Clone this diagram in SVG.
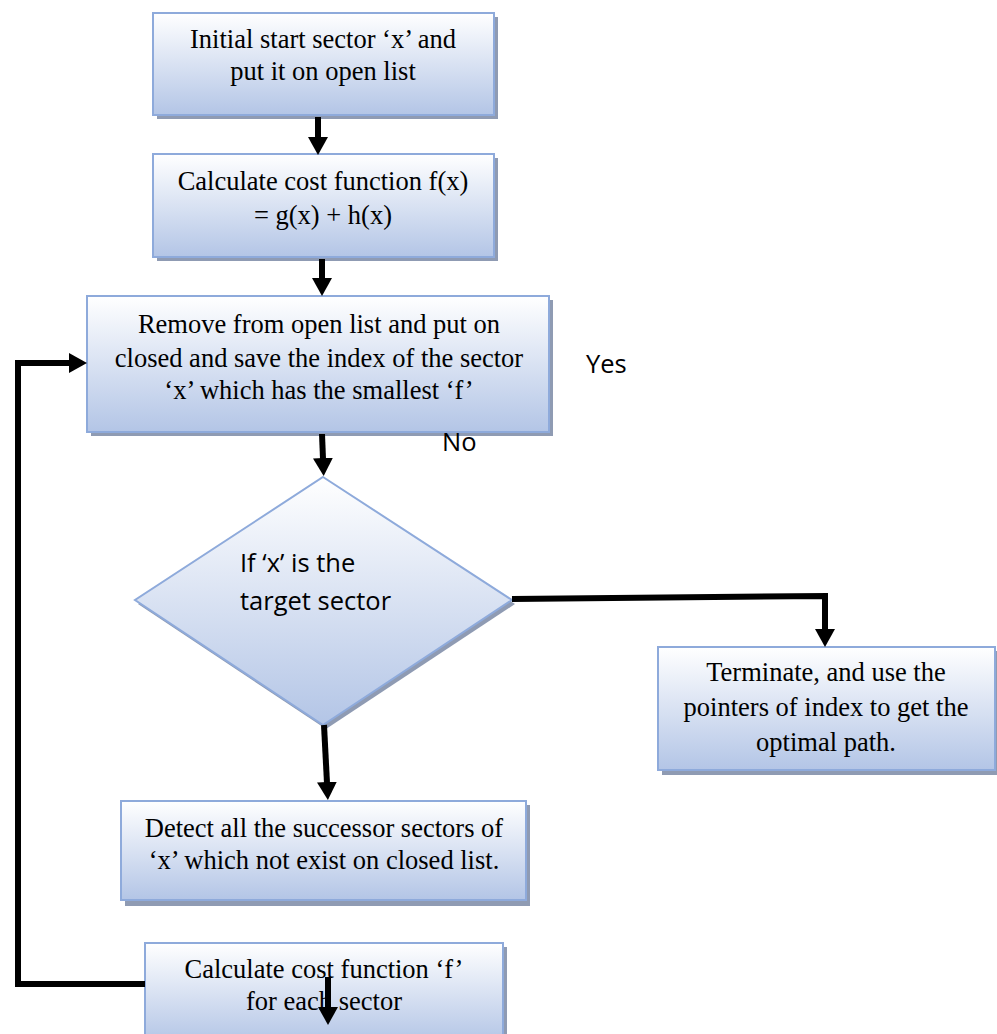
<svg xmlns="http://www.w3.org/2000/svg" width="997" height="1034" viewBox="0 0 997 1034">
<defs>
<linearGradient id="g" x1="0" y1="0" x2="0" y2="1">
<stop offset="0" stop-color="#ffffff"/>
<stop offset="1" stop-color="#b3c5e6"/>
</linearGradient>
<marker id="ah" markerUnits="userSpaceOnUse" markerWidth="19" markerHeight="20" refX="1" refY="10" orient="auto">
<path d="M0,0 L18,10 L0,20 z" fill="#000"/>
</marker>
<style>
.sh{fill:#8f9bb3}
.bx{fill:url(#g);stroke:#8eaadb;stroke-width:2}
.t{font-family:"Liberation Serif","Times New Roman",serif;font-size:26.5px;fill:#000;text-anchor:middle}
.s{font-family:"Open Sans","Noto Sans",sans-serif;font-size:25.5px;fill:#000}
.c{fill:none;stroke:#000;stroke-width:6;stroke-linejoin:miter}
</style>
</defs>
<g id="n1">
<rect class="sh" x="157" y="17" width="341" height="102"/>
<rect class="bx" x="153" y="13" width="341" height="102"/>
<text class="t" x="323" y="48">Initial start sector ‘x’ and</text>
<text class="t" x="323" y="80">put it on open list</text>
</g>
<g id="n2">
<rect class="sh" x="157" y="158" width="341" height="103"/>
<rect class="bx" x="153" y="154" width="341" height="103"/>
<text class="t" x="323" y="190">Calculate cost function f(x)</text>
<text class="t" x="323" y="224">= g(x) + h(x)</text>
</g>
<g id="n3">
<rect class="sh" x="91" y="300" width="462" height="136"/>
<rect class="bx" x="87" y="296" width="462" height="136"/>
<text class="t" x="319" y="333">Remove from open list and put on</text>
<text class="t" x="319" y="367">closed and save the index of the sector</text>
<text class="t" x="319" y="399">‘x’ which has the smallest ‘f’</text>
</g>
<g id="n4">
<polygon class="sh" points="326,481 515,604 326,729 138,604"/>
<polygon class="bx" points="323,477 512,600 323,725 135,600"/>
<text class="s" x="240" y="572">If ‘x’ is the</text>
<text class="s" x="240" y="610">target sector</text>
</g>
<g id="n5">
<rect class="sh" x="662" y="651" width="337" height="124"/>
<rect class="bx" x="658" y="647" width="337" height="123"/>
<text class="t" x="826" y="681">Terminate, and use the</text>
<text class="t" x="826" y="716">pointers of index to get the</text>
<text class="t" x="826" y="751">optimal path.</text>
</g>
<g id="n6">
<rect class="sh" x="125" y="805" width="405" height="101"/>
<rect class="bx" x="121" y="801" width="405" height="99"/>
<text class="t" x="324" y="837">Detect all the successor sectors of</text>
<text class="t" x="324" y="869">‘x’ which not exist on closed list.</text>
</g>
<g id="n7">
<rect class="sh" x="149" y="947" width="358" height="100"/>
<rect class="bx" x="145" y="943" width="358" height="100"/>
<text class="t" x="324" y="978">Calculate cost function ‘f’</text>
<text class="t" x="324" y="1010">for each sector</text>
</g>
<g id="labels">
<text class="s" x="586" y="373">Yes</text>
<text class="s" x="442" y="451">No</text>
</g>
<g id="connectors">
<path class="c" d="M318,117 L318,138" marker-end="url(#ah)"/>
<path class="c" d="M322,259 L322,279" marker-end="url(#ah)"/>
<path class="c" d="M322,434 L323,459" marker-end="url(#ah)"/>
<path class="c" d="M324,725 L327,783" marker-end="url(#ah)"/>
<path class="c" d="M512,599 L825,596 L825,630" marker-end="url(#ah)"/>
<path class="c" d="M145,984 L18,984 L18,363 L70,363" marker-end="url(#ah)"/>
<path class="c" d="M328,977 L328,1008" marker-end="url(#ah)"/>
</g>
</svg>
